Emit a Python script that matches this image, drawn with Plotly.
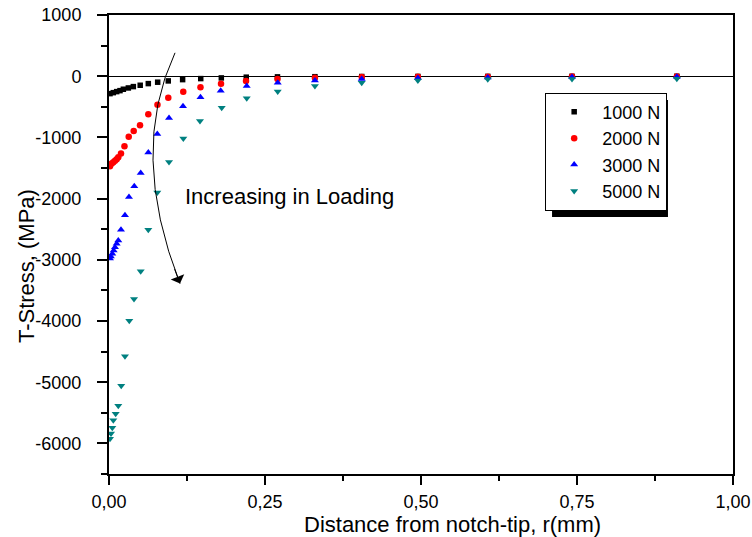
import plotly.graph_objects as go

# ---- data ----
series_names = ["1000 N", "2000 N", "3000 N", "5000 N"]

x_1000 = [0.0016, 0.0069, 0.0123, 0.0176, 0.0230, 0.0310, 0.0390, 0.0500, 0.0630, 0.0780,
          0.0950, 0.1180, 0.1470, 0.1800, 0.2200, 0.2700, 0.3300, 0.4050, 0.4950, 0.6070,
          0.7420, 0.9100]
y_1000 = [-285, -269, -252, -236, -213, -192, -170, -148, -121, -98,
          -77, -56, -39, -28, -16, -11, -8, -5, -4, -3,
          -2, -1]

x_2000 = [0.0016, 0.0043, 0.0069, 0.0096, 0.0123, 0.0149, 0.0192, 0.0248, 0.0316, 0.0396,
          0.0497, 0.0630, 0.0777, 0.0950, 0.1190, 0.1466, 0.1795, 0.2196, 0.2700, 0.3300,
          0.4050, 0.4950, 0.6070, 0.7420, 0.9100]
y_2000 = [-1470, -1426, -1405, -1380, -1356, -1323, -1262, -1143, -990, -895,
          -800, -622, -468, -354, -254, -180, -124, -77, -44, -25,
          -15, -10, -8, -5, -3]

x_3000 = [0.0016, 0.0030, 0.0053, 0.0075, 0.0096, 0.0123, 0.0149, 0.0192, 0.0256, 0.0320,
          0.0405, 0.0508, 0.0630, 0.0774, 0.0962, 0.1186, 0.1466, 0.1790, 0.2207, 0.2704,
          0.3300, 0.4050, 0.4950, 0.6070, 0.7420, 0.9100]
y_3000 = [-2979, -2946, -2902, -2848, -2793, -2738, -2684, -2508, -2274, -1974,
          -1798, -1580, -1246, -946, -684, -492, -344, -236, -159, -105,
          -70, -45, -30, -20, -15, -10]

x_5000 = [0.0016, 0.0032, 0.0053, 0.0069, 0.0107, 0.0149, 0.0196, 0.0256, 0.0325, 0.0401,
          0.0508, 0.0630, 0.0774, 0.0962, 0.1191, 0.1458, 0.1806, 0.2207, 0.2704, 0.3300,
          0.4050, 0.4950, 0.6070, 0.7420, 0.9100]
y_5000 = [-5926, -5840, -5744, -5623, -5515, -5384, -5056, -4574, -3995, -3639,
          -3187, -2508, -1902, -1400, -1016, -733, -515, -361, -252, -160,
          -105, -70, -50, -45, -40]

x_tick_vals = [0.0, 0.25, 0.5, 0.75, 1.0]
x_tick_text = ["0,00", "0,25", "0,50", "0,75", "1,00"]
y_tick_vals = [-6000, -5000, -4000, -3000, -2000, -1000, 0, 1000]
y_tick_text = ["-6000", "-5000", "-4000", "-3000", "-2000", "-1000", "0", "1000"]

FONT = "Arial, Liberation Sans, sans-serif"

colors = ["#000000", "#ff0000", "#0000ff", "#008080"]
symbols = ["square", "circle", "triangle-up", "triangle-down"]
sizes = [5.5, 6.5, 7, 7]
xs = [x_1000, x_2000, x_3000, x_5000]
ys = [y_1000, y_2000, y_3000, y_5000]

fig = go.Figure()
for name, xv, yv, c, s, sz in zip(series_names, xs, ys, colors, symbols, sizes):
    fig.add_trace(go.Scatter(
        x=xv, y=yv, mode="markers", name=name,
        marker=dict(symbol=s, color=c, size=sz, line=dict(width=0)),
    ))

# curved arrow "Increasing in Loading"
fig.add_shape(type="path", xref="x", yref="y",
              path="M 0.1058,382 Q 0.03125,-1241 0.1138,-3389",
              line=dict(color="black", width=1))
fig.add_annotation(x=0.1138, y=-3389, xref="x", yref="y", ax=-6, ay=-16,
                   showarrow=True, arrowhead=1, arrowsize=2.4, arrowwidth=1,
                   arrowcolor="black", text="")
fig.add_annotation(x=0.1186, y=0.6035, xref="paper", yref="paper",
                   text="Increasing in Loading", showarrow=False,
                   xanchor="left", yanchor="middle",
                   font=dict(family=FONT, size=22, color="black"))

# axis titles
fig.add_annotation(x=0.5497, y=-0.111, xref="paper", yref="paper",
                   text="Distance from notch-tip, r(mm)", showarrow=False,
                   xanchor="center", yanchor="middle",
                   font=dict(family=FONT, size=22, color="black"))
fig.add_annotation(x=-0.133, y=0.453, xref="paper", yref="paper",
                   text="T-Stress, (MPa)", showarrow=False, textangle=-90,
                   xanchor="center", yanchor="middle",
                   font=dict(family=FONT, size=22, color="black"))

# legend shadow
fig.add_shape(type="rect", xref="paper", yref="paper",
              x0=0.710, x1=0.8958, y0=0.560, y1=0.8148,
              fillcolor="black", line=dict(width=0), layer="above")

fig.update_layout(
    width=752, height=537,
    margin=dict(l=109, r=19, t=15, b=63, autoexpand=False),
    paper_bgcolor="white", plot_bgcolor="white",
    font=dict(family=FONT, color="black"),
    showlegend=True,
    legend=dict(x=0.699, y=0.831, xanchor="left", yanchor="top",
                bgcolor="white", bordercolor="black", borderwidth=1,
                font=dict(family=FONT, size=18, color="black"),
                itemwidth=46, tracegroupgap=0),
    xaxis=dict(range=[0, 1], showgrid=False, zeroline=False, automargin=False,
               showline=True, linecolor="black", linewidth=2, mirror=True,
               ticks="outside", ticklen=9, tickwidth=1.5, tickcolor="black",
               tickmode="array", tickvals=x_tick_vals, ticktext=x_tick_text,
               tickfont=dict(family=FONT, size=18, color="black"),
               ticklabelstandoff=1,
               minor=dict(ticks="outside", ticklen=5, tickwidth=1.5, tickcolor="black",
                          tickmode="linear", tick0=0, dtick=0.125)),
    yaxis=dict(range=[-6500, 1000], showgrid=False, automargin=False,
               zeroline=True, zerolinecolor="black", zerolinewidth=1,
               showline=True, linecolor="black", linewidth=2, mirror=True,
               ticks="outside", ticklen=10, tickwidth=1.5, tickcolor="black",
               tickmode="array", tickvals=y_tick_vals, ticktext=y_tick_text,
               tickfont=dict(family=FONT, size=18, color="black"),
               ticklabelstandoff=12,
               minor=dict(ticks="outside", ticklen=6, tickwidth=1.5, tickcolor="black",
                          tickmode="linear", tick0=0, dtick=500)),
)

fig.write_html("out.html", config={"displayModeBar": False},
               post_script="document.body.style.margin='0px';document.body.style.padding='0px';")
